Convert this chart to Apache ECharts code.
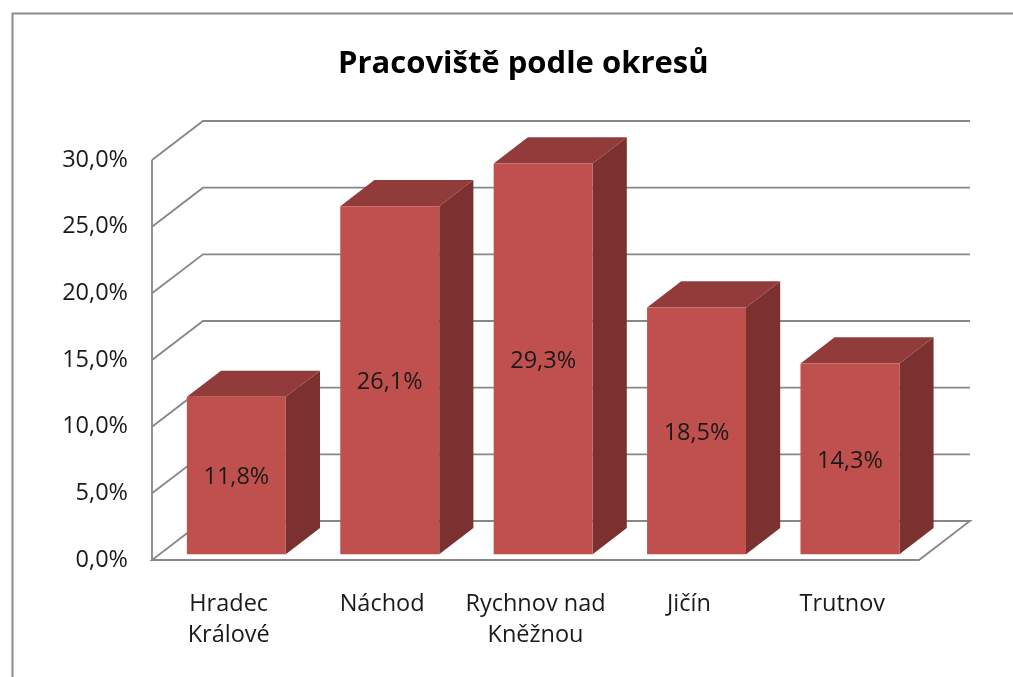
<!DOCTYPE html>
<html>
<head>
<meta charset="utf-8">
<script src="https://cdn.jsdelivr.net/npm/echarts@6/dist/echarts.min.js"></script>
<style>html,body{margin:0;padding:0;background:#fff}#c{width:1013px;height:677px}</style>
</head>
<body>
<div id="c"></div>
<script>
const title = 'Pracoviště podle okresů';
const categories = ['Hradec Králové', 'Náchod', 'Rychnov nad Kněžnou', 'Jičín', 'Trutnov'];
const values = [11.8, 26.1, 29.3, 18.5, 14.3];
const yTicks = [0, 5, 10, 15, 20, 25, 30];

const FONT = 'Open Sans';
const DEPTH = [51, -39];        // full depth of floor/walls in px
const BAR_F = 0.15, BAR_B = 0.82; // bar front/back as fraction of depth
const BAR_W = 0.645;            // bar width as fraction of band
const GRID = '#878787';
const fmt = v => v.toFixed(1).replace('.', ',') + '%';

const chart = echarts.init(document.getElementById('c'), null, {renderer: 'canvas'});

function off(p, f) { return [p[0] + DEPTH[0] * f, p[1] + DEPTH[1] * f]; }

chart.setOption({
  animation: false,
  backgroundColor: '#fff',
  title: {
    text: title, left: 333, top: 44,
    textStyle: {fontFamily: FONT, fontWeight: 'bold', fontSize: 31, color: '#000'}
  },
  graphic: [{
    type: 'rect', shape: {x: 12.5, y: 13.5, width: 1100, height: 700},
    style: {fill: 'none', stroke: '#8c8c8c', lineWidth: 2}, z: 100
  }],
  grid: {left: 152, right: 94, top: 160, bottom: 117},
  xAxis: {
    type: 'category', data: categories,
    axisLine: {show: false}, axisTick: {show: false}, splitLine: {show: false},
    axisLabel: {
      margin: 29, fontFamily: FONT, fontSize: 23.5, color: '#1a1a1a', lineHeight: 31,
      interval: 0,
      formatter: v => v.replace(/ (\S+)$/, '\n$1')
    }
  },
  yAxis: {
    type: 'value', min: 0, max: 30, interval: 5,
    axisLine: {show: false}, axisTick: {show: false}, splitLine: {show: false},
    axisLabel: {margin: 24, fontFamily: FONT, fontSize: 23.5, color: '#1a1a1a', formatter: fmt}
  },
  series: [{
    type: 'custom', z: 1, silent: true,
    data: yTicks.map(v => [0, v]),
    renderItem: function (params, api) {
      const v = api.value(1);
      const band = api.size([1, 0])[0];
      const fl = api.coord([0, v]); fl[0] -= band / 2;
      const fr = api.coord([categories.length - 1, v]); fr[0] += band / 2;
      const bl = off(fl, 1), br = off(fr, 1);
      const children = [];
      const ls = {stroke: GRID, lineWidth: 1.8, fill: 'none'};
      if (v === 0) {
        children.push({type: 'polygon', shape: {points: [fl, fr, br, bl]}, style: ls});
        const top = api.coord([0, yTicks[yTicks.length - 1]]); top[0] -= band / 2;
        children.push({type: 'line', shape: {x1: fl[0], y1: fl[1], x2: top[0], y2: top[1]}, style: ls});
      } else {
        children.push({type: 'polyline', shape: {points: [fl, bl, br]}, style: ls});
      }
      return {type: 'group', children: children};
    }
  }, {
    type: 'custom', z: 2, silent: true,
    data: values.map((v, i) => [i, v]),
    renderItem: function (params, api) {
      const i = api.value(0), v = api.value(1);
      const band = api.size([1, 0])[0];
      const hw = band * BAR_W / 2;
      const b = api.coord([i, 0]), t = api.coord([i, v]);
      const fBL = off([b[0] - hw, b[1]], BAR_F), fBR = off([b[0] + hw, b[1]], BAR_F);
      const fTL = off([b[0] - hw, t[1]], BAR_F), fTR = off([b[0] + hw, t[1]], BAR_F);
      const kBR = off([b[0] + hw, b[1]], BAR_B);
      const kTL = off([b[0] - hw, t[1]], BAR_B), kTR = off([b[0] + hw, t[1]], BAR_B);
      return {type: 'group', children: [
        {type: 'polygon', shape: {points: [fTR, kTR, kBR, fBR]}, style: {fill: '#7a3130'}},
        {type: 'polygon', shape: {points: [fTL, fTR, kTR, kTL]}, style: {fill: '#913c3a'}},
        {type: 'polygon', shape: {points: [fTL, fTR, fBR, fBL]}, style: {fill: '#c0504d'}},
        {type: 'text', x: (fTL[0] + fTR[0]) / 2, y: (fTL[1] + fBL[1]) / 2 + 2,
         style: {text: fmt(v), fontFamily: FONT, fontSize: 23.5, fill: '#1a1a1a', align: 'center', verticalAlign: 'middle'}}
      ]};
    }
  }]
});
</script>
</body>
</html>
